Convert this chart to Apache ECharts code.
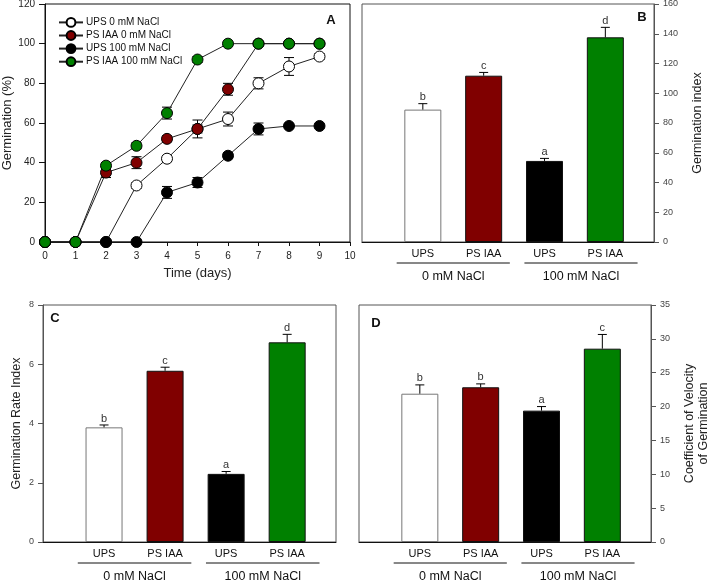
<!DOCTYPE html>
<html>
<head>
<meta charset="utf-8">
<script src="https://cdn.jsdelivr.net/npm/echarts@6/dist/echarts.min.js"></script>
<style>
html, body { margin: 0; padding: 0; background: #fff; }
#chart { width: 708px; height: 581px; }
</style>
</head>
<body>
<div id="chart"></div>
<script>
// panel A: germination over time
const days = [0, 1, 2, 3, 4, 5, 6, 7, 8, 9];
const ups0 = [0, 0, 0, 28.5, 42, 57, 62, 80, 88.5, 93.5];
const ups0Err = [0, 0, 0, 1.5, 1.5, 4.5, 3.5, 2.8, 4.5, 1.5];
const psiaa0 = [0, 0, 35, 40, 52, 57, 77, 100, 100, 100];
const psiaa0Err = [0, 0, 2.5, 3, 1.5, 2, 3, 0, 0, 0];
const ups100 = [0, 0, 0, 0, 25, 30, 43.5, 57, 58.5, 58.5];
const ups100Err = [0, 0, 0, 0, 3, 2.5, 1.5, 3, 1, 1];
const psiaa100 = [0, 0, 38.5, 48.5, 65, 92, 100, 100, 100, 100];
const psiaa100Err = [0, 0, 1.5, 1.5, 3, 1.5, 0, 0, 0, 0];

// panels B-D: bars
const treatments = ['UPS', 'PS IAA', 'UPS', 'PS IAA'];
const barX = [1, 2, 3, 4];
const groups = ['0 mM NaCl', '100 mM NaCl'];
const groupCenter = [1.5, 3.6];
const groupHalf = 0.93;
const barColors = ['#ffffff', '#800000', '#000000', '#008000'];

const giMean = [89, 111.8, 54.5, 137.6];
const giErr = [4, 2.2, 1.7, 6.7];
const giLetters = ['b', 'c', 'a', 'd'];

const griMean = [3.87, 5.78, 2.3, 6.74];
const griErr = [0.08, 0.12, 0.08, 0.27];
const griLetters = ['b', 'c', 'a', 'd'];

const cvgMean = [21.9, 22.85, 19.4, 28.55];
const cvgErr = [1.3, 0.5, 0.6, 2.1];
const cvgLetters = ['b', 'b', 'a', 'c'];

const font = 'Liberation Sans, Arial, sans-serif';
const chart = echarts.init(document.getElementById('chart'));

function lineSeries(name, values, color) {
    return {
        name: name,
        type: 'line',
        xAxisIndex: 0,
        yAxisIndex: 0,
        data: days.map((d, i) => [d, values[i]]),
        symbol: 'circle',
        symbolSize: 11,
        z: 3,
        itemStyle: { color: color, borderColor: '#000', borderWidth: 1 },
        lineStyle: { color: '#222', width: 1 },
        emphasis: { disabled: true },
        animation: false
    };
}

function lineErrors(values, errors) {
    return {
        type: 'custom',
        xAxisIndex: 0,
        yAxisIndex: 0,
        z: 2,
        silent: true,
        animation: false,
        data: days.map((d, i) => [d, values[i], errors[i]]).filter(r => r[2] > 0),
        encode: { x: 0, y: 1 },
        renderItem: function (params, api) {
            const x = api.value(0), y = api.value(1), e = api.value(2);
            const lo = api.coord([x, y - e]);
            const hi = api.coord([x, y + e]);
            const st = { stroke: '#000', lineWidth: 1 };
            return {
                type: 'group',
                children: [
                    { type: 'line', shape: { x1: lo[0], y1: lo[1], x2: hi[0], y2: hi[1] }, style: st },
                    { type: 'line', shape: { x1: lo[0] - 5, y1: lo[1], x2: lo[0] + 5, y2: lo[1] }, style: st },
                    { type: 'line', shape: { x1: hi[0] - 5, y1: hi[1], x2: hi[0] + 5, y2: hi[1] }, style: st }
                ]
            };
        }
    };
}

function barSeries(idx, means) {
    return {
        type: 'bar',
        xAxisIndex: idx,
        yAxisIndex: idx,
        barWidth: 37,
        animation: false,
        emphasis: { disabled: true },
        data: means.map((m, i) => ({
            value: [barX[i], m],
            itemStyle: {
                color: barColors[i],
                borderColor: i === 0 ? '#777' : '#111',
                borderWidth: 1
            }
        }))
    };
}

function barErrors(idx, means, errors, letters) {
    return {
        type: 'custom',
        xAxisIndex: idx,
        yAxisIndex: idx,
        silent: true,
        animation: false,
        z: 3,
        data: means.map((m, i) => [barX[i], m, errors[i], i]),
        encode: { x: 0, y: 1 },
        renderItem: function (params, api) {
            const x = api.value(0), m = api.value(1), e = api.value(2);
            const lo = api.coord([x, m]);
            const hi = api.coord([x, m + e]);
            const st = { stroke: '#000', lineWidth: 1 };
            return {
                type: 'group',
                children: [
                    { type: 'line', shape: { x1: lo[0], y1: lo[1], x2: hi[0], y2: hi[1] }, style: st },
                    { type: 'line', shape: { x1: hi[0] - 4.5, y1: hi[1], x2: hi[0] + 4.5, y2: hi[1] }, style: st },
                    {
                        type: 'text',
                        style: {
                            text: letters[api.value(3)], x: hi[0], y: hi[1] - 1,
                            align: 'center', verticalAlign: 'bottom',
                            fontSize: 11, fontFamily: font, fill: '#333'
                        }
                    }
                ]
            };
        }
    };
}

const catLabel = {
    fontSize: 11, fontFamily: font, color: '#111', margin: 6,
    formatter: function (v) {
        const r = Math.round(v);
        const i = barX.indexOf(r);
        return (Math.abs(v - r) < 1e-6 && i >= 0) ? treatments[i] : '';
    }
};

function barXAxis(idx) {
    return {
        type: 'value', gridIndex: idx, min: 0, max: 4.8, interval: 1,
        axisLine: { show: true, lineStyle: { color: '#111' } },
        axisTick: { show: false },
        splitLine: { show: false },
        axisLabel: catLabel
    };
}

function valueYAxis(idx, pos, max, interval, name, nameGap) {
    return {
        type: 'value', gridIndex: idx, position: pos, min: 0, max: max, interval: interval,
        name: name, nameLocation: 'middle', nameGap: nameGap,
        nameTextStyle: { fontSize: 12.5, fontFamily: font, color: '#222', lineHeight: 13.5 },
        axisLine: { show: true, onZero: false, lineStyle: { color: '#555' } },
        axisTick: { show: true, inside: false, length: 5, lineStyle: { color: '#555' } },
        splitLine: { show: false },
        axisLabel: { fontSize: 9, fontFamily: font, color: '#444', margin: 9 }
    };
}

const gridBase = { show: true, borderColor: '#555', borderWidth: 1, containLabel: false, outerBoundsMode: 'none' };

chart.setOption({
    backgroundColor: '#fff',
    animation: false,
    textStyle: { fontFamily: font },
    grid: [
        Object.assign({ left: 45, right: 358, top: 4, bottom: 339 }, gridBase, { borderColor: '#111' }),
        Object.assign({ left: 362, right: 54, top: 4, bottom: 339 }, gridBase),
        Object.assign({ left: 43, right: 372, top: 305, bottom: 39 }, gridBase),
        Object.assign({ left: 359, right: 57, top: 305, bottom: 39 }, gridBase)
    ],
    legend: {
        data: ['UPS 0 mM NaCl', 'PS IAA 0 mM NaCl', 'UPS 100 mM NaCl', 'PS IAA 100 mM NaCl'],
        orient: 'vertical',
        left: 53,
        top: 12,
        itemWidth: 24,
        itemHeight: 11,
        itemGap: 2.3,
        selectedMode: false,
        textStyle: { fontSize: 10, fontFamily: font, color: '#111', padding: [0, 0, 0, -2] }
    },
    xAxis: [
        {
            type: 'value', gridIndex: 0, min: 0, max: 10, interval: 1,
            name: 'Time (days)', nameLocation: 'middle', nameGap: 25,
            nameTextStyle: { fontSize: 13, fontFamily: font, color: '#222' },
            axisLine: { show: true, lineStyle: { color: '#111' } },
            axisTick: { show: true, length: 4, lineStyle: { color: '#111' } },
            splitLine: { show: false },
            axisLabel: { fontSize: 10, fontFamily: font, color: '#222', margin: 9 }
        },
        barXAxis(1), barXAxis(2), barXAxis(3)
    ],
    yAxis: [
        {
            type: 'value', gridIndex: 0, min: 0, max: 120, interval: 20,
            name: 'Germination (%)', nameLocation: 'middle', nameGap: 31,
            nameTextStyle: { fontSize: 13, fontFamily: font, color: '#222' },
            axisLine: { show: true, lineStyle: { color: '#111' } },
            axisTick: { show: true, length: 6, lineStyle: { color: '#111' } },
            splitLine: { show: false },
            axisLabel: { fontSize: 10, fontFamily: font, color: '#222', margin: 10 }
        },
        valueYAxis(1, 'right', 160, 20, 'Germination index', 37),
        valueYAxis(2, 'left', 8, 2, 'Germination Rate Index', 20),
        valueYAxis(3, 'right', 35, 5, 'Coefficient of Velocity\nof Germination', 32)
    ],
    series: [
        lineErrors(ups0, ups0Err),
        lineErrors(psiaa0, psiaa0Err),
        lineErrors(ups100, ups100Err),
        lineErrors(psiaa100, psiaa100Err),
        lineSeries('UPS 0 mM NaCl', ups0, '#ffffff'),
        lineSeries('PS IAA 0 mM NaCl', psiaa0, '#800000'),
        lineSeries('UPS 100 mM NaCl', ups100, '#000000'),
        lineSeries('PS IAA 100 mM NaCl', psiaa100, '#008000'),
        barSeries(1, giMean), barErrors(1, giMean, giErr, giLetters),
        barSeries(2, griMean), barErrors(2, griMean, griErr, griLetters),
        barSeries(3, cvgMean), barErrors(3, cvgMean, cvgErr, cvgLetters)
    ]
});

// group underlines + group names under bar panels, panel letters
const graphics = [];
[1, 2, 3].forEach(function (p) {
    const y0 = chart.convertToPixel({ yAxisIndex: p }, 0);
    groups.forEach(function (g, gi) {
        const xa = chart.convertToPixel({ xAxisIndex: p }, groupCenter[gi] - groupHalf);
        const xb = chart.convertToPixel({ xAxisIndex: p }, groupCenter[gi] + groupHalf);
        const xc = chart.convertToPixel({ xAxisIndex: p }, groupCenter[gi]);
        graphics.push({
            type: 'line', shape: { x1: xa, y1: y0 + 21, x2: xb, y2: y0 + 21 },
            style: { stroke: '#111', lineWidth: 1 }
        });
        graphics.push({
            type: 'text', x: xc, y: y0 + 35,
            style: { text: g, align: 'center', verticalAlign: 'middle', fontSize: 12.5, fontFamily: font, fill: '#111' }
        });
    });
});
[['A', 331, 20], ['B', 642, 17], ['C', 55, 318], ['D', 376, 323]].forEach(function (l) {
    graphics.push({
        type: 'text', x: l[1], y: l[2],
        style: { text: l[0], align: 'center', verticalAlign: 'middle', fontSize: 13, fontWeight: 'bold', fontFamily: font, fill: '#111' }
    });
});
chart.setOption({ graphic: graphics });
</script>
</body>
</html>
